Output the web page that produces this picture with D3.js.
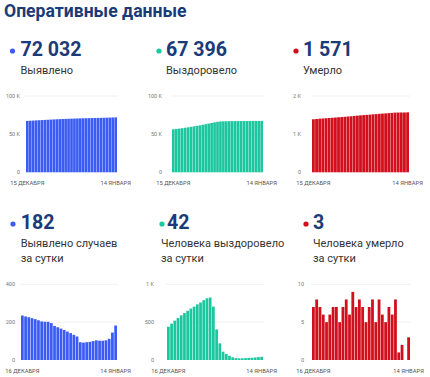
<!DOCTYPE html>
<html>
<head>
<meta charset="utf-8">
<script src="https://cdn.jsdelivr.net/npm/d3@7/dist/d3.min.js"></script>
<style>
  body { margin: 0; background: #fff; }
  svg { display: block; font-family: Roboto, "Noto Sans", sans-serif; }
</style>
</head>
<body>
<svg id="chart" width="430" height="377"></svg>
<script>
(function() {
  'use strict';

  // cumulative totals, 15 Dec .. 14 Jan
  var totalCases = [67337, 67572, 67802, 68028, 68249, 68465, 68675, 68879, 69081, 69283,
    69478, 69658, 69831, 69997, 70156, 70306, 70448, 70581, 70705, 70799, 70891,
    70985, 71081, 71181, 71285, 71387, 71489, 71593, 71705, 71850, 72032];
  var totalRecovered = [56356, 56796, 57276, 57796, 58351, 58941, 59561, 60211, 60891, 61596,
    62331, 63091, 63881, 64696, 65521, 66226, 66631, 66851, 66961, 67041, 67096,
    67131, 67156, 67178, 67200, 67225, 67253, 67283, 67316, 67354, 67396];
  var totalDeaths = [1390, 1397, 1405, 1412, 1418, 1423, 1429, 1436, 1443, 1448,
    1455, 1463, 1469, 1478, 1485, 1493, 1500, 1505, 1512, 1520, 1525,
    1533, 1539, 1544, 1551, 1557, 1565, 1566, 1568, 1568, 1571];

  // daily values, 16 Dec .. 14 Jan
  var dailyCases = [235, 230, 226, 221, 216, 210, 204, 202, 202, 195,
    180, 173, 166, 159, 150, 142, 133, 124, 94, 92,
    94, 96, 100, 104, 102, 102, 104, 112, 145, 182];
  var dailyRecovered = [440, 480, 520, 555, 590, 620, 650, 680, 705, 735,
    760, 790, 815, 825, 705, 405, 220, 110, 80, 55,
    35, 25, 22, 22, 25, 28, 30, 33, 38, 42];
  var dailyDeaths = [7, 8, 7, 6, 5, 6, 7, 7, 5, 7,
    8, 6, 9, 7, 8, 7, 5, 7, 8, 5,
    8, 6, 5, 7, 6, 8, 1, 2, 0, 3];

  var headlines = ["72 032", "67 396", "1 571", "182", "42", "3"];
  var captions = [
    ["Выявлено"],
    ["Выздоровело"],
    ["Умерло"],
    ["Выявлено случаев", "за сутки"],
    ["Человека выздоровело", "за сутки"],
    ["Человека умерло", "за сутки"]
  ];

  var totalDates = ["15 ДЕКАБРЯ", "14 ЯНВАРЯ"];
  var dailyDates = ["16 ДЕКАБРЯ", "14 ЯНВАРЯ"];

  var bigTicks = [0, 50000, 100000], bigTickLabels = ["0", "50 K", "100 K"];
  var deathTicks = [0, 1000, 2000], deathTickLabels = ["0", "1 K", "2 K"];
  var dayCaseTicks = [0, 200, 400], dayCaseTickLabels = ["0", "200", "400"];
  var dayRecTicks = [0, 500, 1000], dayRecTickLabels = ["0", "500", "1 K"];
  var dayDeathTicks = [0, 5, 10], dayDeathTickLabels = ["0", "5", "10"];

  var BLUE = "#3a5cf4", TEAL = "#1cc79f", RED = "#d10f1d";
  var NAVY = "#1b3a78";

  var svg = d3.select("#chart");

  svg.append("text")
    .attr("x", 4)
    .attr("y", 17)
    .attr("font-size", 17.6)
    .attr("font-weight", 700)
    .attr("fill", NAVY)
    .text("Оперативные данные");

  function drawPanel(o) {
    var g = svg.append("g");

    g.append("circle")
      .attr("cx", o.dotX)
      .attr("cy", o.numY - 5)
      .attr("r", 2.6)
      .attr("fill", o.color);

    g.append("text")
      .attr("x", o.textX)
      .attr("y", o.numY)
      .attr("font-size", 19.6)
      .attr("font-weight", 700)
      .attr("fill", NAVY)
      .text(o.headline);

    o.caption.forEach(function(line, i) {
      g.append("text")
        .attr("x", o.capX)
        .attr("y", o.capY + i * 15)
        .attr("font-size", 11)
        .attr("fill", "#333")
        .text(line);
    });

    var x = d3.scaleBand()
      .domain(d3.range(o.values.length))
      .range([o.x0, o.x1])
      .paddingInner(o.pad);
    var y = d3.scaleLinear()
      .domain([0, d3.max(o.ticks)])
      .range([o.yBottom, o.yTop]);

    // grid
    g.selectAll("line.grid")
      .data(o.ticks.filter(function(t) { return t > 0; }))
      .enter().append("line")
      .attr("class", "grid")
      .attr("x1", o.x0 - 1)
      .attr("x2", o.x1 + 1)
      .attr("y1", function(d) { return y(d); })
      .attr("y2", function(d) { return y(d); })
      .attr("stroke", "#ececec")
      .attr("stroke-width", 0.8);

    g.selectAll("text.ytick")
      .data(o.ticks)
      .enter().append("text")
      .attr("class", "ytick")
      .attr("x", o.labelX)
      .attr("y", function(d) { return y(d); })
      .attr("dy", "0.35em")
      .attr("text-anchor", "end")
      .attr("font-size", 5.5)
      .attr("fill", "#777")
      .text(function(d, i) { return o.tickLabels[i]; });

    g.selectAll("rect.bar")
      .data(o.values)
      .enter().append("rect")
      .attr("class", "bar")
      .attr("x", function(d, i) { return x(i); })
      .attr("width", x.bandwidth())
      .attr("y", function(d) { return y(d); })
      .attr("height", function(d) { return o.yBottom - y(d); })
      .attr("fill", o.color);

    var last = o.values.length - 1;
    [0, last].forEach(function(idx, k) {
      g.append("text")
        .attr("x", x(idx) + x.bandwidth() / 2)
        .attr("y", o.yBottom + 13)
        .attr("text-anchor", "middle")
        .attr("font-size", 5.8)
        .attr("fill", "#555")
        .text(o.dates[k]);
    });
  }

  var TOP = { numY: 56, capY: 74, yTop: 96, yBottom: 172.3, pad: 0.1 };
  var BOT = { numY: 229, capY: 247, yTop: 284.3, yBottom: 360, pad: 0.15 };

  var panels = [
    { row: TOP, dotX: 12.5, textX: 20.5, capX: 20.5, x0: 26, x1: 117, labelX: 20,
      values: totalCases, ticks: bigTicks, tickLabels: bigTickLabels, dates: totalDates, color: BLUE },
    { row: TOP, dotX: 159, textX: 166, capX: 166, x0: 172, x1: 263, labelX: 162,
      values: totalRecovered, ticks: bigTicks, tickLabels: bigTickLabels, dates: totalDates, color: TEAL },
    { row: TOP, dotX: 296, textX: 303, capX: 303, x0: 312, x1: 409, labelX: 301,
      values: totalDeaths, ticks: deathTicks, tickLabels: deathTickLabels, dates: totalDates, color: RED },
    { row: BOT, dotX: 13, textX: 20.7, capX: 20.7, x0: 21, x1: 117, labelX: 15,
      values: dailyCases, ticks: dayCaseTicks, tickLabels: dayCaseTickLabels, dates: dailyDates, color: BLUE },
    { row: BOT, dotX: 162, textX: 167, capX: 161, x0: 167, x1: 263, labelX: 154,
      values: dailyRecovered, ticks: dayRecTicks, tickLabels: dayRecTickLabels, dates: dailyDates, color: TEAL },
    { row: BOT, dotX: 306, textX: 313, capX: 313, x0: 312, x1: 410, labelX: 304,
      values: dailyDeaths, ticks: dayDeathTicks, tickLabels: dayDeathTickLabels, dates: dailyDates, color: RED }
  ];

  panels.forEach(function(p, i) {
    drawPanel({
      dotX: p.dotX, textX: p.textX, capX: p.capX,
      numY: p.row.numY, capY: p.row.capY,
      yTop: p.row.yTop, yBottom: p.row.yBottom, pad: p.row.pad,
      x0: p.x0, x1: p.x1, labelX: p.labelX,
      values: p.values, ticks: p.ticks, tickLabels: p.tickLabels,
      dates: p.dates, color: p.color,
      headline: headlines[i], caption: captions[i]
    });
  });
}());
</script>
</body>
</html>
